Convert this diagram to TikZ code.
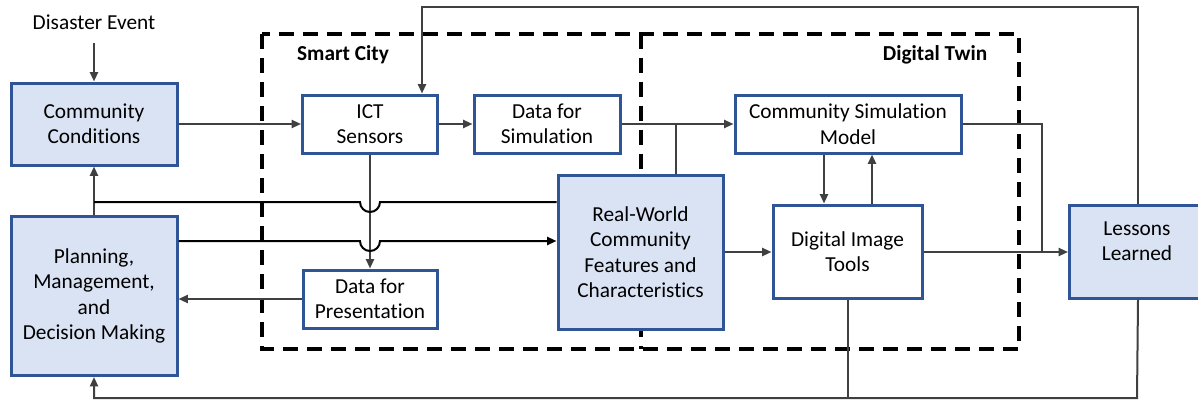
\documentclass[tikz,border=0pt]{standalone}
\usepackage{fontspec}
\setmainfont{Carlito}[Ligatures=NoCommon]
\usetikzlibrary{arrows.meta}
\definecolor{boxblue}{HTML}{2F5597}
\definecolor{boxfill}{HTML}{DAE3F3}
\definecolor{conn}{HTML}{404040}
\begin{document}
\begin{tikzpicture}[x=0.75pt,y=-0.75pt,
  every node/.style={font=\fontsize{16pt}{19pt}\selectfont, align=center, inner sep=0pt},
  bluebox/.style={draw=boxblue, line width=2.25pt, fill=boxfill},
  whitebox/.style={draw=boxblue, line width=2.25pt, fill=white},
  conline/.style={draw=conn, line width=1.5pt},
  arr/.style={conline, -{Triangle[length=7pt,width=6pt]}},
  dashbox/.style={draw=black, line width=3pt, dash pattern=on 11pt off 7pt},
  title/.style={font=\fontsize{16pt}{19pt}\selectfont\bfseries}]
\useasboundingbox (0,0) rectangle (1198,400);
\begin{scope}
\clip (0,0) rectangle (1198,400);
% dashed regions
\draw[dashbox] (262,34) rectangle (1019,349);
\draw[dashbox] (641,34) -- (641,349);
\node[title] (sc) at (343,55) {Smart City};
\node[title] (dt) at (935,55) {Digital Twin};

% nodes
\node (de) at (94,22) {Disaster Event};
\node[bluebox, minimum width=0.75*166pt, minimum height=0.75*82pt] (cc) at (94,124) {Community\\Conditions};
\node[bluebox, minimum width=0.75*166pt, minimum height=0.75*159pt] (pm) at (94,296) {Planning,\\Management,\\and\\Decision Making};
\node[whitebox, minimum width=0.75*135pt, minimum height=0.75*58pt] (ict) at (370,124) {ICT\\Sensors};
\node[whitebox, minimum width=0.75*146pt, minimum height=0.75*58pt] (dfs) at (547,124) {Data for\\Simulation};
\node[whitebox, minimum width=0.75*134pt, minimum height=0.75*58pt] (dfp) at (370,299) {Data for\\Presentation};
\node[bluebox, minimum width=0.75*165pt, minimum height=0.75*154pt] (rw) at (640.5,252) {Real-World\\Community\\Features and\\Characteristics};
\node[whitebox, minimum width=0.75*226pt, minimum height=0.75*58pt] (csm) at (848,124) {Community Simulation\\Model};
\node[whitebox, minimum width=0.75*149pt, minimum height=0.75*93pt] (dit) at (847.5,251.5) {Digital Image\\Tools};
\node[bluebox, minimum width=0.75*137pt, minimum height=0.75*93pt] (ll) at (1138,251.5) {};
\node (llt) at (1137,241) {Lessons\\Learned};

% coordinates
\coordinate (j1) at (94,202);
\coordinate (j2) at (676,124);
\coordinate (j3) at (1042,124);
\coordinate (j4) at (1042,252);
\coordinate (t1) at (1138,7);
\coordinate (t2) at (422,7);
\coordinate (b1) at (1137,398);
\coordinate (b2) at (94,398);

% connectors
\draw[arr, shorten <=10pt] (de.south) -- (cc.north);
\draw[arr] (pm.north) -- (cc.south);
\draw[arr] (cc.east) -- (ict.west);
\draw[arr] (ict.east) -- (dfs.west);
\draw[arr] (dfs.east) -- (csm.west);
\draw[conline] (j2) -- (j2 |- rw.north);
\draw[arr] (ict.south) -- (dfp.north);
\draw[arr] (dfp.west) -- (dfp.west -| pm.east);
\draw[conline, draw=black] (j1) -- (360,202) arc[start angle=180, end angle=0, radius=10] -- (j1 -| rw.west);
\draw[arr, draw=black] (pm.east |- 0,241) -- (360,241) arc[start angle=180, end angle=0, radius=10] -- (rw.west |- 0,241);
\draw[arr] (rw.east |- 0,252) -- (dit.west |- 0,252);
\draw[arr] (csm.south -| 824,0) -- (dit.north -| 824,0);
\draw[arr] (dit.north -| 872,0) -- (csm.south -| 872,0);
\draw[conline] (csm.east) -- (j3) -- (j4);
\draw[arr] (dit.east |- 0,252) -- (ll.west |- 0,252);
\draw[arr] (ll.north) -- (t1) -- (t2) -- (t2 |- ict.north);
\draw[arr] (ll.south) -- (b1) -- (b2) -- (pm.south);
\draw[conline] (dit.south) -- (dit.south |- b1);
\end{scope}
\end{tikzpicture}
\end{document}
